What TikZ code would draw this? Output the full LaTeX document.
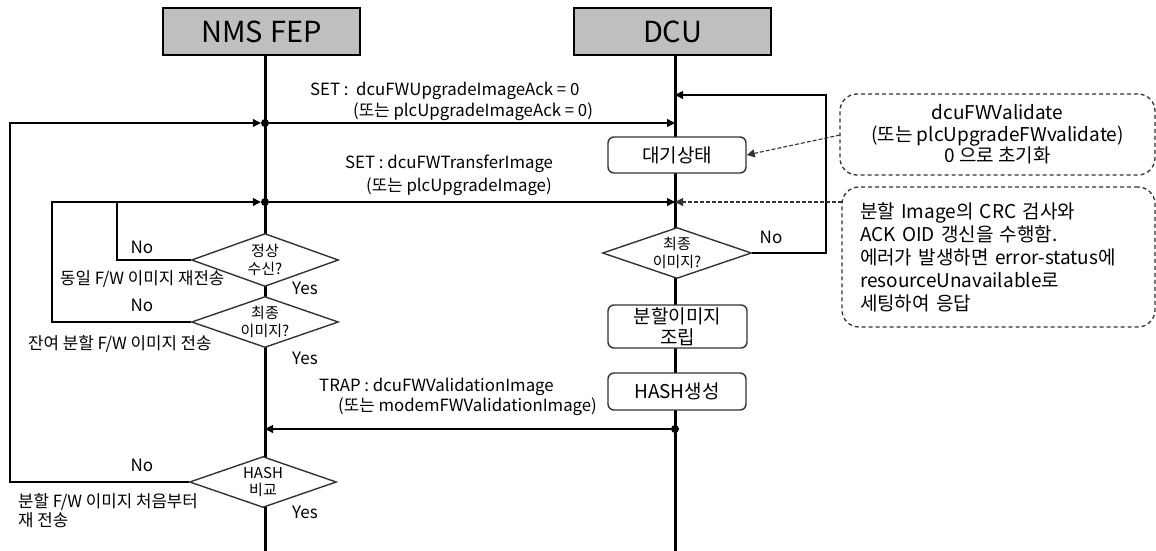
\documentclass[tikz,border=0pt]{standalone}
\usepackage{fontspec}
\setmainfont{Noto Sans CJK KR}
\usetikzlibrary{arrows.meta,shapes.geometric}
\begin{document}
\begin{tikzpicture}[x=1pt,y=-1pt,
  head/.style={draw=black,line width=2.6pt,fill=gray!50,minimum width=197pt,minimum height=47pt,inner sep=0pt,font=\fontsize{29}{32}\selectfont},
  life/.style={line width=3pt},
  msg/.style={line width=1.1pt,-{Triangle[length=8pt,width=8pt]}},
  plain/.style={line width=1.1pt},
  dec/.style={diamond,draw=black!80,line width=1.4pt,fill=white,aspect=2.8,inner sep=0pt,align=center,font=\fontsize{15}{17.5}\selectfont},
  proc/.style={draw=black!80,line width=1.4pt,fill=white,rounded corners=6pt,inner sep=0pt,align=center,font=\fontsize{19}{21}\selectfont},
  note/.style={draw=black!80,dashed,dash pattern=on 4pt off 3pt,line width=1.3pt,rounded corners=17pt,inner sep=0pt},
  dashmsg/.style={draw=black!80,dash pattern=on 4pt off 2pt,line width=1.1pt,-{Triangle[length=8pt,width=8pt]}},
  lbl/.style={inner sep=0pt,font=\fontsize{16.8}{20}\selectfont},
  side/.style={inner sep=0pt,font=\fontsize{16.8}{19}\selectfont},
  yn/.style={inner sep=0pt,font=\fontsize{17}{19}\selectfont},
  dot/.style={circle,fill=black,inner sep=0pt,minimum size=8pt}
]
\useasboundingbox (0,0) rectangle (1156,551);

% headers
\node[head] (nms) at (261.5,31.5) {NMS\hspace{7pt}FEP};
\node[head] (dcu) at (672.5,31.5) {DCU};

% lifeline coordinates
\coordinate (nmsT) at (265,55);
\coordinate (nmsB) at (265,551);
\coordinate (dcuT) at (675,55);
\coordinate (dcuB) at (675,551);
\draw[life] (nmsT) -- (nmsB);
\draw[life] (dcuT) -- (dcuB);

% message points
\coordinate (p1) at (265,123);
\coordinate (q1) at (675,123);
\coordinate (p2) at (265,202);
\coordinate (q2) at (675,202);
\coordinate (p3) at (265,429);
\coordinate (q3) at (675,429);
\coordinate (q0) at (675,95);

% nodes on lifelines
\node[dec,minimum width=147pt,minimum height=53pt] (d1) at (265,260) {정상\\수신?};
\node[dec,minimum width=147pt,minimum height=51pt] (d2) at (265,322) {최종\\이미지?};
\node[dec,minimum width=149pt,minimum height=51pt] (d3) at (677,253) {최종\\이미지?};
\node[dec,minimum width=147pt,minimum height=51pt] (d4) at (263,482) {HASH\\비교};
\node[proc,minimum width=138pt,minimum height=36pt] (wait) at (677,155) {대기상태};
\node[proc,minimum width=139pt,minimum height=43pt] (asm) at (677.5,326.5) {분할이미지\\조립};
\node[proc,minimum width=138pt,minimum height=37pt] (hash) at (677,391.5) {HASH생성};

% notes
\node[note,minimum width=315pt,minimum height=81pt,align=center,font=\fontsize{19}{21.5}\selectfont] (n1) at (997.5,134.5) {dcuFWValidate\\(또는 plcUpgradeFWvalidate)\\0 으로 초기화};
\node[note,minimum width=313pt,minimum height=140pt,text width=277pt,align=left,font=\fontsize{19}{23}\selectfont] (n2) at (998.5,257) {분할 Image의 CRC 검사와\\ACK OID 갱신을 수행함.\\에러가 발생하면 error-status에\\resourceUnavailable로\\세팅하여 응답};

% messages
\node[dot] (dp1) at (p1) {};
\node[dot] (dp2) at (p2) {};
\node[dot] (dq3) at (q3) {};
\draw[msg] (dp1) -- (q1);
\draw[msg] (dp2) -- (q2);
\draw[msg] (dq3) -- (p3);

\node[lbl,anchor=west] (l1a) at (310,91) {SET :\ \ dcuFWUpgradeImageAck = 0};
\node[lbl,anchor=west] (l1b) at (353,112) {(또는 plcUpgradeImageAck = 0)};
\node[lbl,anchor=west] (l2a) at (345,164) {SET : dcuFWTransferImage};
\node[lbl,anchor=west] (l2b) at (366,187) {(또는 plcUpgradeImage)};
\node[lbl,anchor=west] (l3a) at (319,387) {TRAP : dcuFWValidationImage};
\node[lbl,anchor=west] (l3b) at (338,407) {(또는 modemFWValidationImage)};

% loops on NMS side
\coordinate (c1a) at (117,260);
\coordinate (c1b) at (117,202);
\coordinate (c2a) at (52,322);
\coordinate (c2b) at (52,202);
\coordinate (c4a) at (10,482);
\coordinate (c4b) at (10,123);
\draw[plain] (d1.west) -- (c1a) -- (c1b);
\draw[msg] (d2.west) -- (c2a) -- (c2b) -- (dp2);
\draw[msg] (d4.west) -- (c4a) -- (c4b) -- (dp1);

% loop on DCU side
\coordinate (r1) at (826,253);
\coordinate (r2) at (826,95);
\draw[msg] (d3.east) -- (r1) -- (r2) -- (q0);

% dashed note arrows
\coordinate (n1p) at (840,135);
\coordinate (n2p) at (842,202);
\draw[dashmsg] (n1p) -- (wait.east);
\draw[dashmsg] (n2p) -- (q2);

% side labels
\node[yn] (no1) at (142,247) {No};
\node[yn] (no2) at (142,305) {No};
\node[yn] (no4) at (142,465) {No};
\node[yn] (no3) at (771,237) {No};
\node[yn] (y1) at (305,288) {Yes};
\node[yn] (y2) at (305,358) {Yes};
\node[yn] (y4) at (305,512) {Yes};
\node[side,anchor=west] (s1) at (60,279) {동일 F/W 이미지 재전송};
\node[side,anchor=west] (s2) at (28,344) {잔여 분할 F/W 이미지 전송};
\node[side,anchor=north west,align=left] (s4) at (18,493) {분할 F/W 이미지 처음부터\\재 전송};
\end{tikzpicture}
\end{document}
